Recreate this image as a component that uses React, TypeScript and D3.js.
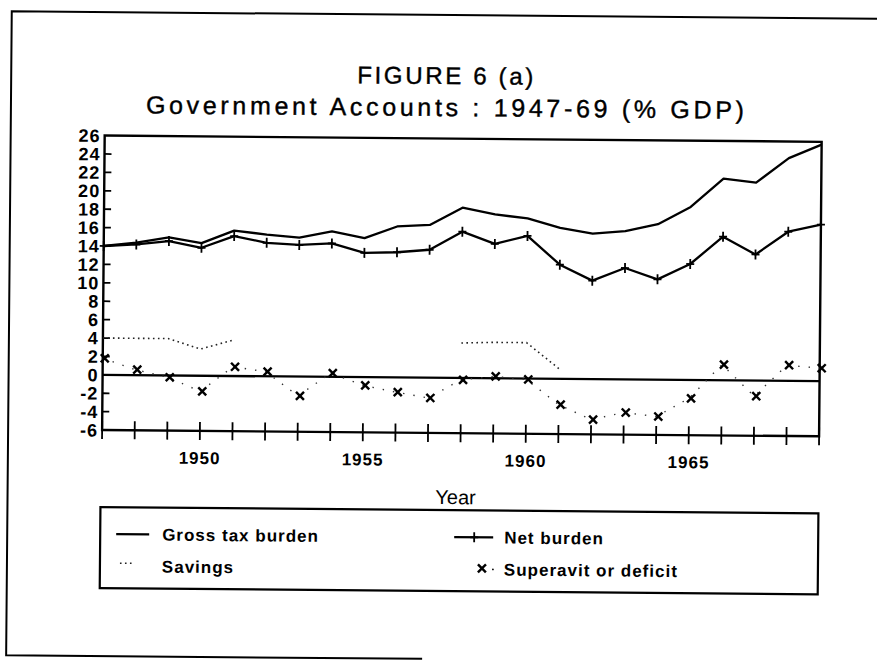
import React from 'react';
import * as d3 from 'd3';

// values (% of GDP)
const years = [1947, 1948, 1949, 1950, 1951, 1952, 1953, 1954, 1955, 1956, 1957, 1958,
  1959, 1960, 1961, 1962, 1963, 1964, 1965, 1966, 1967, 1968, 1969];
const grossTax = [14.0, 14.4, 15.0, 14.4, 15.8, 15.4, 15.1, 15.8, 15.1, 16.4, 16.6, 18.5,
  17.8, 17.4, 16.4, 15.8, 16.1, 16.9, 18.8, 21.9, 21.5, 24.2, 25.7];
const netBurden = [14.0, 14.2, 14.6, 13.9, 15.2, 14.5, 14.3, 14.5, 13.5, 13.6, 13.9, 15.9,
  14.6, 15.5, 12.4, 10.7, 12.1, 10.9, 12.6, 15.6, 13.7, 16.2, 17.0];
// savings only shows up in parts of the print
const savings = [4.0, 4.0, 4.0, 2.9, 3.9, null, null, null, null, null, null, 3.8,
  3.9, 3.9, 1.1, null, null, null, null, null, null, null, null];
const superavit = [1.8, 0.6, -0.2, -1.7, 1.0, 0.5, -2.1, 0.4, -0.9, -1.6, -2.2, -0.2,
  0.2, -0.1, -2.8, -4.4, -3.6, -4.0, -2.0, 1.7, -1.7, 1.7, 1.4];

const yTicks = [26, 24, 22, 20, 18, 16, 14, 12, 10, 8, 6, 4, 2, 0, -2, -4, -6];
const xLabels = [1950, 1955, 1960, 1965];

const W = 877;
const H = 662;
const font = '"Liberation Sans", Arial, Helvetica, sans-serif';

type Pt = [number, number | null];

function Plus({ cx, cy }: { cx: number; cy: number }) {
  return (
    <g stroke="#000" strokeWidth={1.8}>
      <line x1={cx} x2={cx} y1={cy - 5} y2={cy + 5} />
      <line x1={cx - 4} x2={cx + 4} y1={cy} y2={cy} />
    </g>
  );
}

function Cross({ cx, cy }: { cx: number; cy: number }) {
  const s = 4;
  return (
    <g stroke="#000" strokeWidth={2.4}>
      <line x1={cx - s} x2={cx + s} y1={cy - s} y2={cy + s} />
      <line x1={cx - s} x2={cx + s} y1={cy + s} y2={cy - s} />
    </g>
  );
}

export default function App() {
  const x = d3.scaleLinear().domain([1947, 1969]).range([103, 820]);
  const y = d3.scaleLinear().domain([-6, 26]).range([433, 138.5]);

  const line = d3.line<Pt>()
    .defined(d => d[1] !== null)
    .x(d => x(d[0]))
    .y(d => y(d[1] as number));

  const pts = (vals: (number | null)[]): Pt[] => years.map((yr, i) => [yr, vals[i]]);

  const x0 = x(1947), x1 = x(1969), yTop = y(26), yBot = y(-6);

  return (
    <svg width={W} height={H} style={{ position: 'absolute', left: 0, top: 0, display: 'block', background: '#fff' }}
      fontFamily={font}>
      <rect width={W} height={H} fill="#fff" />
      {/* the scan is turned a little clockwise */}
      <g transform="rotate(0.5 440 330)">
        {/* outer frame of the page */}
        <path d={`M${W + 10},15 L9,15 L9,659 L425,659`} fill="none" stroke="#000" strokeWidth={2} />

        {/* titles */}
        <text x={443} y={84} textAnchor="middle" fontSize={24} textLength={176} lengthAdjust="spacing"
          stroke="#000" strokeWidth={0.4}>FIGURE 6 (a)</text>
        <text x={443} y={116} textAnchor="middle" fontSize={25} textLength={598} lengthAdjust="spacing"
          stroke="#000" strokeWidth={0.4}>Government Accounts : 1947-69 (% GDP)</text>

        {/* plot frame */}
        <rect x={x0} y={yTop} width={x1 - x0} height={yBot - yTop} fill="none" stroke="#000" strokeWidth={2.4} />
        <line x1={x0} x2={x1} y1={y(0)} y2={y(0)} stroke="#000" strokeWidth={2.4} />

        {/* y axis */}
        {yTicks.map(t => (
          <g key={t}>
            {t > -6 && t < 26 && t !== 0 && (
              <line x1={x0} x2={x0 + 7} y1={y(t)} y2={y(t)} stroke="#000" strokeWidth={1.8} />
            )}
            <text x={99} y={y(t)} dy="0.36em" textAnchor="end" fontSize={18} fontWeight="bold"
              letterSpacing={1}>{t}</text>
          </g>
        ))}

        {/* x axis */}
        {years.map(yr => (
          <line key={yr} x1={x(yr)} x2={x(yr)} y1={yBot - 9} y2={yBot + 9} stroke="#000" strokeWidth={1.8} />
        ))}
        {xLabels.map(yr => (
          <text key={yr} x={x(yr)} y={466} textAnchor="middle" fontSize={17} fontWeight="bold"
            letterSpacing={1}>{yr}</text>
        ))}
        <text x={457} y={504} textAnchor="middle" fontSize={20}>Year</text>

        {/* series */}
        <path d={line(pts(grossTax)) || ''} fill="none" stroke="#000" strokeWidth={2.3} strokeLinejoin="round" />
        <path d={line(pts(netBurden)) || ''} fill="none" stroke="#000" strokeWidth={2.3} strokeLinejoin="round" />
        {years.map((yr, i) => <Plus key={yr} cx={x(yr)} cy={y(netBurden[i])} />)}
        <path d={line(pts(savings)) || ''} fill="none" stroke="#222" strokeWidth={1.6} strokeDasharray="1.6 3.4" />
        <path d={line(pts(superavit)) || ''} fill="none" stroke="#333" strokeWidth={1.4} strokeDasharray="1.4 9" />
        {years.map((yr, i) => <Cross key={yr} cx={x(yr) + 2} cy={y(superavit[i])} />)}

        {/* legend */}
        <rect x={102} y={510} width={718} height={81} fill="none" stroke="#000" strokeWidth={2.2} />
        <line x1={118} x2={151} y1={537} y2={537} stroke="#000" strokeWidth={2.3} />
        <text x={164} y={543} fontSize={17} fontWeight="bold" letterSpacing={1}>Gross tax burden</text>
        <line x1={122} x2={136} y1={566} y2={566} stroke="#222" strokeWidth={1.6} strokeDasharray="1.6 3.4" />
        <text x={164} y={575} fontSize={17} fontWeight="bold" letterSpacing={1}>Savings</text>
        <line x1={456} x2={495} y1={537} y2={537} stroke="#000" strokeWidth={2.3} />
        <Plus cx={476} cy={537} />
        <text x={506} y={543} fontSize={17} fontWeight="bold" letterSpacing={1}>Net burden</text>
        <Cross cx={484} cy={568} />
        <circle cx={495} cy={569} r={0.9} fill="#000" />
        <text x={506} y={575} fontSize={17} fontWeight="bold" letterSpacing={1}>Superavit or deficit</text>
      </g>
    </svg>
  );
}
